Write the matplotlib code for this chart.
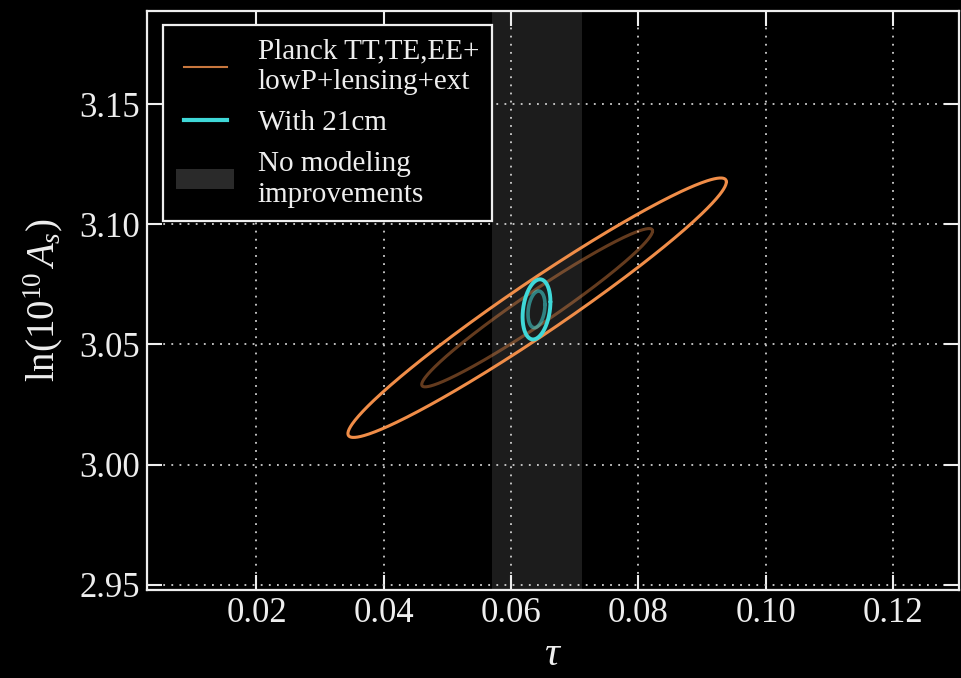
import numpy as np
import matplotlib
matplotlib.use("Agg")
import matplotlib.pyplot as plt
from matplotlib.lines import Line2D
from matplotlib.patches import Patch
from matplotlib.legend_handler import HandlerLine2D

plt.rcParams['font.family'] = ['Liberation Serif', 'DejaVu Serif']
plt.rcParams['mathtext.fontset'] = 'custom'
plt.rcParams['mathtext.rm'] = 'Liberation Serif'
plt.rcParams['mathtext.it'] = 'Liberation Serif:italic'

# Gaussian fits: centre, sigmas, correlation
planck_center = [0.0641, 3.0653]
planck_sigma = [0.01196, 0.0217]
planck_rho = 0.970

cm21_center = [0.0640, 3.0646]
cm21_sigma = [0.00088, 0.00503]
cm21_rho = 0.25

# "No modeling improvements" band in tau
band_lo, band_hi = 0.0570, 0.0712

levels = [2.30, 6.18]   # 68% and 95% delta chi^2 in 2D

xticks = [0.02, 0.04, 0.06, 0.08, 0.10, 0.12]
yticks = [2.95, 3.00, 3.05, 3.10, 3.15]

fg = '#eeeeee'
orange = '#f08d48'
cyan = '#3fd8d8'


def contour(center, sigma, rho, dchi2, n=400):
    cov = np.array([[sigma[0]**2, rho*sigma[0]*sigma[1]],
                    [rho*sigma[0]*sigma[1], sigma[1]**2]])
    L = np.linalg.cholesky(cov)
    t = np.linspace(0, 2*np.pi, n)
    pts = L @ np.vstack([np.cos(t), np.sin(t)]) * np.sqrt(dchi2)
    return center[0] + pts[0], center[1] + pts[1]


# legend lines a bit shorter than the patch, like the original
class ShortLine(HandlerLine2D):
    def get_xdata(self, legend, xdescent, ydescent, width, height, fontsize):
        pad = 0.13 * width
        xd = np.array([-xdescent + pad, -xdescent + width - pad])
        return xd, xd


fig = plt.figure(figsize=(9.61, 6.78), dpi=100, facecolor='black')
ax = fig.add_axes([0.153, 0.1298, 0.845, 0.854])
ax.set_facecolor('black')

ax.axvspan(band_lo, band_hi, color='#1c1c1c', lw=0, zorder=0)

# Planck: 68% dim, 95% bright
x, y = contour(planck_center, planck_sigma, planck_rho, levels[0])
ax.plot(x, y, color=orange, alpha=0.42, lw=2.2, zorder=3, solid_capstyle='round')
x, y = contour(planck_center, planck_sigma, planck_rho, levels[1])
ax.plot(x, y, color=orange, lw=2.2, zorder=3, solid_capstyle='round')

# with 21cm
x, y = contour(cm21_center, cm21_sigma, cm21_rho, levels[0])
ax.plot(x, y, color=cyan, alpha=0.55, lw=2.6, zorder=4, solid_capstyle='round')
x, y = contour(cm21_center, cm21_sigma, cm21_rho, levels[1])
ax.plot(x, y, color=cyan, lw=2.8, zorder=4, solid_capstyle='round')

ax.set_xlim(0.0028, 0.1304)
ax.set_ylim(2.9479, 3.1887)
ax.set_xticks(xticks)
ax.set_yticks(yticks)
ax.set_xticklabels(['%.2f' % v for v in xticks])
ax.set_yticklabels(['%.2f' % v for v in yticks])

ax.grid(True, color='#cfcfcf', lw=1.3, linestyle=(0, (1, 3.5)), zorder=1)
ax.set_axisbelow(True)
for s in ax.spines.values():
    s.set_color(fg)
    s.set_linewidth(1.6)
ax.tick_params(direction='in', length=11, width=1.5, colors=fg,
               top=True, right=True, labelsize=25, pad=5)

ax.set_xlabel(r'$\tau$', fontsize=30, color=fg, labelpad=4)
ax.set_ylabel(r'$\ln(10^{10}\,A_s)$', fontsize=28, color=fg, labelpad=10)

handles = [Line2D([], [], color='#c8773e', lw=1.5),
           Line2D([], [], color=cyan, lw=3),
           Patch(facecolor='#2a2a2a', edgecolor='none')]
labels = ['Planck TT,TE,EE+\nlowP+lensing+ext', 'With 21cm',
          'No modeling\nimprovements']
leg = ax.legend(handles, labels, loc='upper left',
                bbox_to_anchor=(0.0197, 0.9755), borderaxespad=0,
                fontsize=21, frameon=True, fancybox=False, framealpha=1,
                facecolor='black', edgecolor=fg, handlelength=2.0,
                handletextpad=0.8, borderpad=0.45, labelspacing=0.5,
                handler_map={Line2D: ShortLine()})
leg.get_frame().set_linewidth(1.6)
for t in leg.get_texts():
    t.set_color(fg)
    t.set_linespacing(1.25)

fig.savefig('out.png', dpi=100, facecolor='black')
